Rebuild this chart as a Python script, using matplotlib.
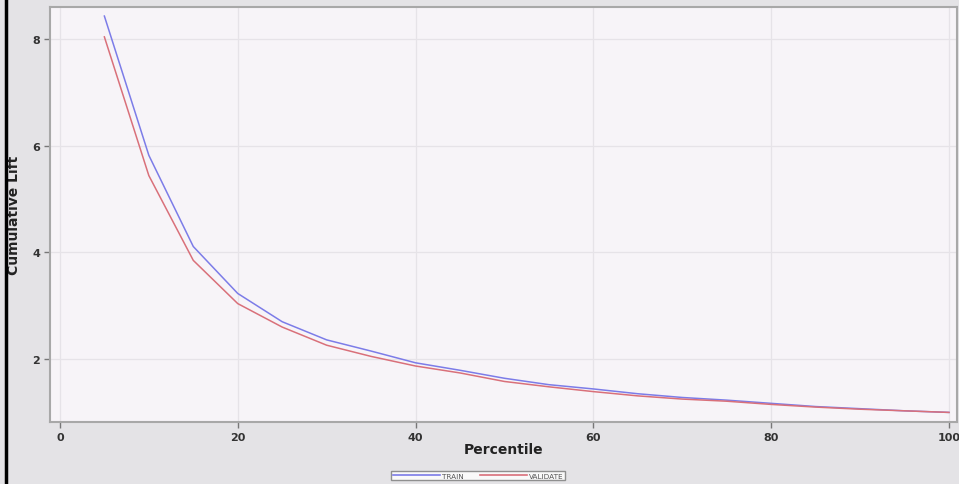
import matplotlib.pyplot as plt
from matplotlib.lines import Line2D

# ── Data ─────────────────────────────────────────────────────────────────────
percentile = [5, 10, 15, 20, 25, 30, 35, 40, 45, 50,
              55, 60, 65, 70, 75, 80, 85, 90, 95, 100]
train_lift = [8.43, 5.82, 4.11, 3.23, 2.70, 2.36, 2.15, 1.93, 1.79, 1.64,
              1.52, 1.44, 1.35, 1.28, 1.23, 1.17, 1.11, 1.07, 1.03, 1.00]
valid_lift = [8.04, 5.44, 3.85, 3.04, 2.60, 2.26, 2.05, 1.87, 1.74, 1.58,
              1.48, 1.39, 1.31, 1.25, 1.21, 1.15, 1.10, 1.06, 1.03, 1.00]
x_ticks = [0, 20, 40, 60, 80, 100]
y_ticks = [2, 4, 6, 8]

BG      = "#E4E3E6"
PANEL   = "#F7F4F8"
GRID    = "#E6E3E8"
TRAIN_C = "#7C7CE8"
VALID_C = "#D9707A"

fig = plt.figure(figsize=(9.59, 4.85), dpi=100)
fig.patch.set_facecolor(BG)
ax = fig.add_axes([0.0521, 0.1278, 0.9458, 0.8557])
ax.set_facecolor(PANEL)

ax.plot(percentile, train_lift, color=TRAIN_C, lw=1.1, zorder=3)
ax.plot(percentile, valid_lift, color=VALID_C, lw=1.1, zorder=3)

ax.set_xlim(-1.12, 100.9)
ax.set_ylim(0.82, 8.6)
ax.set_xticks(x_ticks)
ax.set_yticks(y_ticks)
ax.grid(True, color=GRID, lw=0.9)
ax.set_axisbelow(True)

for s in ax.spines.values():
    s.set_color("#A8A8A8")
    s.set_linewidth(1.5)
ax.tick_params(direction="out", length=4, width=1, color="#777777",
               labelsize=8, labelcolor="#333333", pad=3)
for lab in ax.get_xticklabels() + ax.get_yticklabels():
    lab.set_fontweight("bold")

ax.set_xlabel("Percentile", fontsize=10, fontweight="bold", color="#222222", labelpad=0)
ax.set_ylabel("Cumulative Lift", fontsize=10, fontweight="bold", color="#222222", labelpad=8)

handles = [Line2D([], [], color=TRAIN_C, lw=1.2, label="TRAIN"),
           Line2D([], [], color=VALID_C, lw=1.2, label="VALIDATE")]
leg = fig.legend(handles=handles, loc="center", bbox_to_anchor=(0.4985, 0.0175),
                 ncol=2, fontsize=5.2, frameon=True, fancybox=False,
                 handlelength=6.5, handletextpad=0.3, columnspacing=2.2,
                 borderpad=0.25, labelcolor="#555555")
leg.get_frame().set_edgecolor("#777777")
leg.get_frame().set_linewidth(1.0)
leg.get_frame().set_facecolor("white")

# black left border as in the screenshot
fig.add_artist(Line2D([0.0065, 0.0065], [0, 1], color="black", lw=2.5,
                      transform=fig.transFigure))

fig.savefig("out.png", dpi=100, facecolor=BG)
